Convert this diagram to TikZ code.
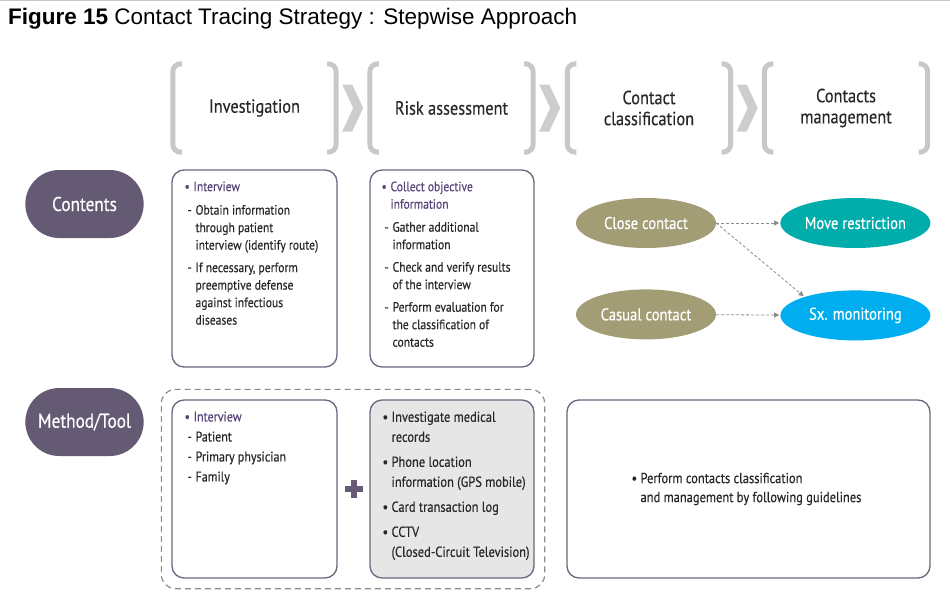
\documentclass[tikz,border=0pt]{standalone}
\usepackage{fontspec}
\newfontfamily\bodyfont{PT Sans}[FakeStretch=0.86,FakeBold=0.35]
\newfontfamily\titlefont{Liberation Sans}
\usetikzlibrary{arrows.meta,shapes.geometric,shapes.misc,fit,positioning}

\definecolor{plum}{RGB}{101,90,115}
\definecolor{plumline}{RGB}{110,100,125}
\definecolor{hdpurple}{RGB}{88,70,120}
\definecolor{txtgray}{RGB}{40,40,40}
\definecolor{brgray}{RGB}{200,200,200}
\definecolor{chgray}{RGB}{205,205,205}
\definecolor{olive}{RGB}{163,157,118}
\definecolor{teal}{RGB}{0,173,170}
\definecolor{skyblue}{RGB}{0,174,239}
\definecolor{boxfill}{RGB}{230,230,230}
\definecolor{arrgray}{RGB}{140,140,140}

% list helpers
\newcommand\bul{\makebox[9pt][l]{\textbullet}}
\newcommand\dsh{\makebox[11pt][l]{\hspace{3pt}-}}
\newcommand\ind{\makebox[11pt]{}}

\begin{document}
\begin{tikzpicture}[x=1pt,y=-1pt,
    every node/.style={font=\bodyfont, text=txtgray},
    stage/.style={minimum width=163pt, minimum height=88pt, inner sep=0pt, align=center, font=\bodyfont\fontsize{19}{21}\selectfont},
    bracket/.style={draw=brgray, line width=5pt, rounded corners=8pt},
    chev/.style={fill=chgray},
    rowlabel/.style={rounded rectangle, fill=plum, minimum width=125pt, minimum height=68pt, font=\bodyfont\fontsize{20}{23}\selectfont, text=white},
    box/.style={draw=plumline, line width=1.3pt, rounded corners=12pt, fill=white},
    item/.style={align=left, inner sep=0pt, font=\bodyfont\fontsize{13.5}{17.5}\selectfont},
    oval/.style={ellipse, minimum height=50pt, inner sep=0pt, text=white, font=\bodyfont\fontsize{17}{18}\selectfont},
    conn/.style={-{Triangle[length=5pt,width=5pt]}, draw=arrgray, line width=0.8pt, dash pattern=on 3pt off 2pt, shorten >=1pt},
    node distance=40pt
]
    \useasboundingbox (0,0) rectangle (950,602);
    \draw[brgray, line width=1pt] (0,0.5) -- (950,0.5);

    \node[anchor=base west, inner sep=0pt, font=\titlefont\fontsize{22.5}{26}\selectfont, text=black] (title) at (8,25) {\textbf{Figure 15} Contact Tracing Strategy : Stepwise Approach};

    % stages
    \node[stage] (h1) at (254.5,108) {Investigation};
    \node[stage] (h2) at (451.5,108) {Risk assessment};
    \node[stage] (h3) at (649,108) {Contact\\classification};
    \node[stage] (h4) at (846,108) {Contacts\\management};
    \foreach \n in {h1,h2,h3,h4} {
        \draw[bracket] ([xshift=9pt]\n.north west) -- (\n.north west) -- (\n.south west) -- ([xshift=9pt]\n.south west);
        \draw[bracket] ([xshift=-9pt]\n.north east) -- (\n.north east) -- (\n.south east) -- ([xshift=-9pt]\n.south east);
    }
    \foreach \n in {h1,h2,h3}
        \fill[chev] ([xshift=6pt]\n.east) ++(0,-23.5) -- ++(10,0) -- ++(11,23.5) -- ++(-11,23.5) -- ++(-10,0) -- ++(11,-23.5) -- cycle;

    % row labels
    \node[rowlabel] (contents) at (84.5,204) {Contents};
    \node[rowlabel] (method) at (84.5,422) {Method/Tool};

    % contents
    \node[box, minimum width=165pt, minimum height=197pt] (c1) at (254.5,268.5) {};
    \node[box, minimum width=164pt, minimum height=197pt] (c2) at (452,268.5) {};
    \node[item, below right=12pt and 13pt of c1.north west] (c1text) {%
        {\color{hdpurple}\bul Interview}\\[6pt]
        \dsh Obtain information\\
        \ind through patient\\
        \ind interview (identify route)\\[5pt]
        \dsh If necessary, perform\\
        \ind preemptive defense\\
        \ind against infectious\\
        \ind diseases};
    \node[item, below right=12pt and 12pt of c2.north west] (c2text) {%
        {\color{hdpurple}\bul Collect objective}\\
        {\color{hdpurple}\makebox[9pt]{}information}\\[5.5pt]
        \dsh Gather additional\\
        \ind information\\[5pt]
        \dsh Check and verify results\\
        \ind of the interview\\[5pt]
        \dsh Perform evaluation for\\
        \ind the classification of\\
        \ind contacts};

    % classification
    \node[oval, fill=olive, minimum width=140pt] (close) at (646,223) {Close contact};
    \node[oval, fill=olive, minimum width=140pt, below=41pt of close] (casual) {Casual contact};
    \node[oval, fill=teal, minimum width=150pt, right=64pt of close] (move) {Move restriction};
    \node[oval, fill=skyblue, minimum width=150pt, below=42pt of move] (sx) {Sx. monitoring};
    \draw[conn] (close) -- (move);
    \draw[conn] (close.east) -- (sx.160);
    \draw[conn] (casual) -- (sx);

    % method / tool
    \node[box, minimum width=165pt, minimum height=178pt] (m1) at (254.5,489) {};
    \node[box, fill=boxfill, minimum width=164pt, minimum height=178pt] (m2) at (452,489) {};
    \node[draw=arrgray, line width=1.2pt, dash pattern=on 6pt off 4pt, rounded corners=14pt, inner sep=10pt, fit=(m1)(m2)] (group) {};
    \node[item, font=\bodyfont\fontsize{14}{17.5}\selectfont, below right=12pt and 13pt of m1.north west] (m1text) {%
        {\color{hdpurple}\bul Interview}\\[2.5pt]
        \dsh Patient\\[2.5pt]
        \dsh Primary physician\\[2.5pt]
        \dsh Family};
    \node[item, font=\bodyfont\fontsize{14.5}{17.5}\selectfont, below right=12pt and 13pt of m2.north west] (m2text) {%
        \bul Investigate medical\\[2.5pt]
        \makebox[9pt]{}records\\[7.5pt]
        \bul Phone location\\[2.5pt]
        \makebox[9pt]{}information (GPS mobile)\\[7.5pt]
        \bul Card transaction log\\[7.5pt]
        \bul CCTV\\[2.5pt]
        \makebox[9pt]{}(Closed-Circuit Television)};
    \coordinate (plus) at (353.5,489);
    \fill[plum] (plus) ++(-9,-3) rectangle ++(18,6);
    \fill[plum] (plus) ++(-3,-9) rectangle ++(6,18);

    \node[box, minimum width=363pt, minimum height=178pt] (m3) at (748.5,489) {};
    \node[item, font=\bodyfont\fontsize{14.5}{17.5}\selectfont, right=65pt of m3.west] (m3text) {%
        \bul Perform contacts classification\\[1.5pt]
        \makebox[9pt]{}and management by following guidelines};

\end{tikzpicture}
\end{document}
